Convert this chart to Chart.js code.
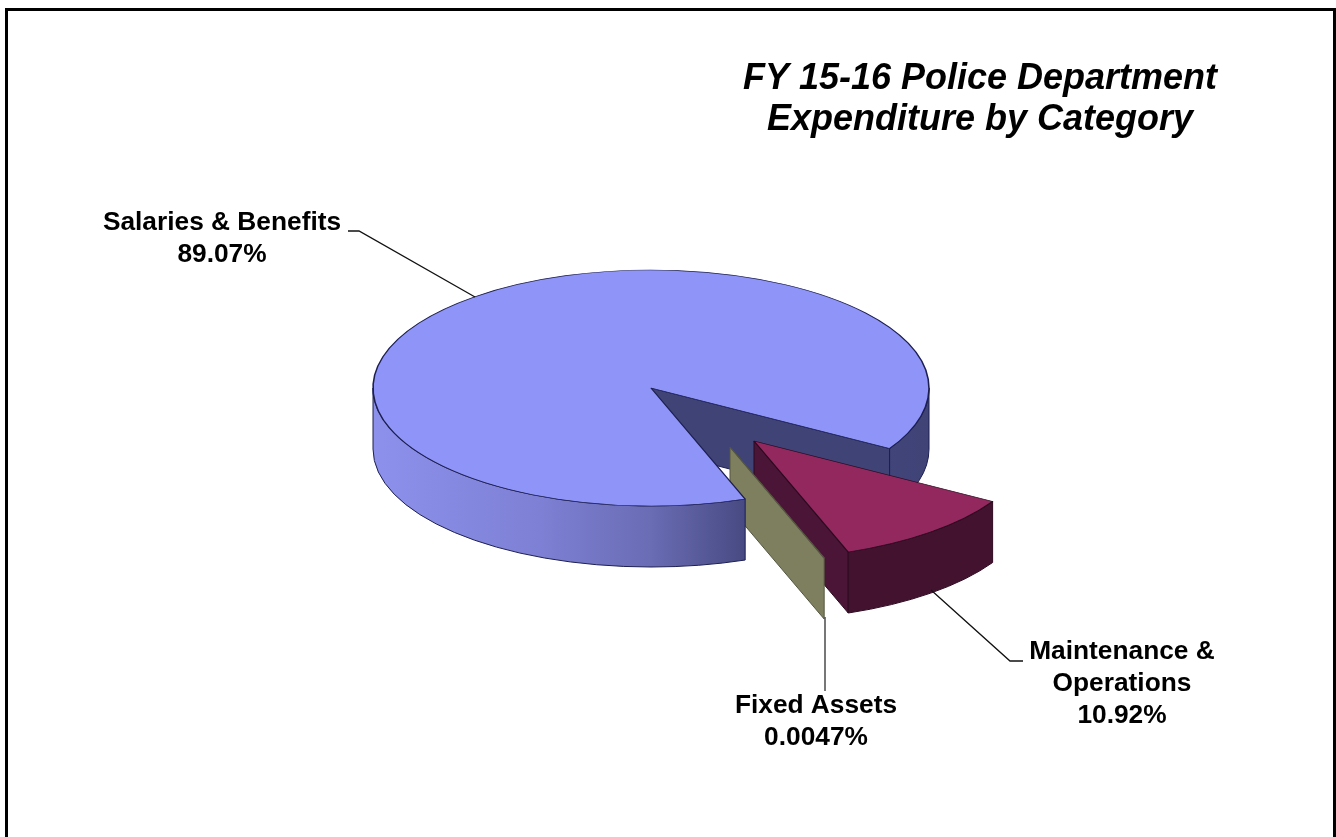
<!DOCTYPE html>
<html>
<head>
<meta charset="utf-8">
<title>FY 15-16 Police Department Expenditure by Category</title>
<script src="https://cdn.jsdelivr.net/npm/chart.js@4"></script>
<style>
  html, body { margin: 0; padding: 0; background: #fff; }
  #wrap { width: 1336px; height: 837px; }
</style>
</head>
<body>
<div id="wrap"><canvas id="chart-1" width="1336" height="837"></canvas></div>
<script>
const categories = ["Salaries & Benefits", "Maintenance & Operations", "Fixed Assets"];
const percents = [89.07, 10.92, 0.0047];
const percentLabels = ["89.07%", "10.92%", "0.0047%"];
const titleLines = ["FY 15-16 Police Department", "Expenditure by Category"];

const topColors = ["#8f94f8", "#93285f", "#7e7f5f"];
const cutColors = ["#3f4376", "#4b1537", "#7e7f5f"];
const rimColors = [null, "#43122f", "#7e7f5f"];
const edgeColors = ["#1c1f50", "#2c0a20", "#55563f"];

const squash = 0.4245;
const depth = 61;
// screen shift of each slice away from the pie
const shifts = [[0, 0], [103, 53], [79, 59]];

const font = "'Liberation Sans', Arial, sans-serif";

function drawCut(ctx, arc, i) {
  const cx = arc.x + shifts[i][0];
  const cy = arc.y + shifts[i][1];
  const rx = arc.outerRadius;
  const ry = rx * squash;
  // only the end face of a slice turns towards the viewer here
  if (Math.sin(arc.endAngle + Math.PI / 2) <= 0) return;
  const px = cx + Math.cos(arc.endAngle) * rx;
  const py = cy + Math.sin(arc.endAngle) * ry;
  ctx.beginPath();
  ctx.moveTo(cx, cy);
  ctx.lineTo(px, py);
  ctx.lineTo(px, py + depth);
  ctx.lineTo(cx, cy + depth);
  ctx.closePath();
  ctx.fillStyle = cutColors[i];
  ctx.fill();
  ctx.strokeStyle = edgeColors[i];
  ctx.lineWidth = 1;
  ctx.stroke();
}

function rimFill(ctx, arc, i) {
  if (rimColors[i]) return rimColors[i];
  const g = ctx.createLinearGradient(arc.x - arc.outerRadius, 0, arc.x + arc.outerRadius, 0);
  g.addColorStop(0, "#8d91ec");
  g.addColorStop(0.3, "#7d80d4");
  g.addColorStop(0.5, "#6a6cb4");
  g.addColorStop(0.67, "#474a82");
  g.addColorStop(1, "#3f4376");
  return g;
}

// rim between two angles, limited to the front half of the ellipse
function drawRim(ctx, arc, i, from, to) {
  const cx = arc.x + shifts[i][0];
  const cy = arc.y + shifts[i][1];
  const rx = arc.outerRadius;
  const ry = rx * squash;
  [0, 2 * Math.PI].forEach(function (turn) {
    const a0 = Math.max(from, turn);
    const a1 = Math.min(to, turn + Math.PI);
    if (a1 <= a0) return;
    ctx.beginPath();
    ctx.ellipse(cx, cy, rx, ry, 0, a0, a1);
    ctx.ellipse(cx, cy + depth, rx, ry, 0, a1, a0, true);
    ctx.closePath();
    ctx.fillStyle = rimFill(ctx, arc, i);
    ctx.fill();
    ctx.strokeStyle = edgeColors[i];
    ctx.lineWidth = 1;
    ctx.stroke();
  });
}

function drawTop(ctx, arc, i) {
  ctx.save();
  ctx.translate(arc.x + shifts[i][0], arc.y + shifts[i][1]);
  ctx.scale(1, squash);
  ctx.translate(-arc.x, -arc.y);
  arc.draw(ctx);
  ctx.restore();
}

const pie3d = {
  id: "pie3d",
  beforeDatasetDraw(chart) {
    const ctx = chart.ctx;
    const arcs = chart.getDatasetMeta(0).data;
    const big = arcs[0];
    drawCut(ctx, big, 0);
    drawRim(ctx, big, 0, 2 * Math.PI, big.endAngle);
    drawCut(ctx, arcs[1], 1);
    drawRim(ctx, arcs[1], 1, arcs[1].startAngle, arcs[1].endAngle);
    drawTop(ctx, arcs[1], 1);
    // fixed assets sits in front of the red slice but behind the big one
    drawCut(ctx, arcs[2], 2);
    drawTop(ctx, arcs[2], 2);
    drawRim(ctx, big, 0, big.startAngle, 2 * Math.PI);
    drawTop(ctx, big, 0);
    return false;
  },
};

function textBlock(ctx, lines, x, y, step) {
  lines.forEach(function (line, n) {
    ctx.fillText(line, x, y + n * step);
  });
}

function leader(ctx, pts, color, width) {
  ctx.beginPath();
  pts.forEach(function (p, n) {
    if (n === 0) ctx.moveTo(p[0], p[1]);
    else ctx.lineTo(p[0], p[1]);
  });
  ctx.strokeStyle = color;
  ctx.lineWidth = width;
  ctx.stroke();
}

const annotations = {
  id: "annotations",
  afterDraw(chart) {
    const ctx = chart.ctx;
    ctx.save();
    ctx.fillStyle = "#000";
    ctx.textAlign = "center";
    ctx.textBaseline = "alphabetic";

    ctx.font = "italic bold 36px " + font;
    textBlock(ctx, titleLines, 980, 89, 41);

    ctx.font = "bold 26.3px " + font;
    textBlock(ctx, [categories[0], percentLabels[0]], 222, 230, 32);
    textBlock(ctx, ["Maintenance &", "Operations", percentLabels[1]], 1122, 659, 32);
    textBlock(ctx, [categories[2], percentLabels[2]], 816, 713, 32);

    leader(ctx, [[348, 231], [359, 231], [475, 297]], "#111", 1.3);
    leader(ctx, [[931, 590], [1010, 661], [1023, 661]], "#111", 1.3);
    leader(ctx, [[825, 617], [825, 691]], "#555", 1.6);

    // frame
    ctx.fillStyle = "#000";
    ctx.fillRect(5, 8, 1331, 3);
    ctx.fillRect(5, 8, 3, 829);
    ctx.fillRect(1333, 8, 3, 829);
    ctx.restore();
  },
};

new Chart(document.getElementById("chart-1"), {
  type: "pie",
  data: {
    labels: categories,
    datasets: [
      {
        data: percents,
        backgroundColor: topColors,
        borderColor: edgeColors,
        borderWidth: 1.6,
      },
    ],
  },
  options: {
    responsive: false,
    animation: false,
    rotation: 160.2,
    radius: 278,
    layout: { padding: { right: 34, bottom: 61 } },
    plugins: {
      legend: { display: false },
      tooltip: { enabled: false },
    },
  },
  plugins: [pie3d, annotations],
});
</script>
</body>
</html>
